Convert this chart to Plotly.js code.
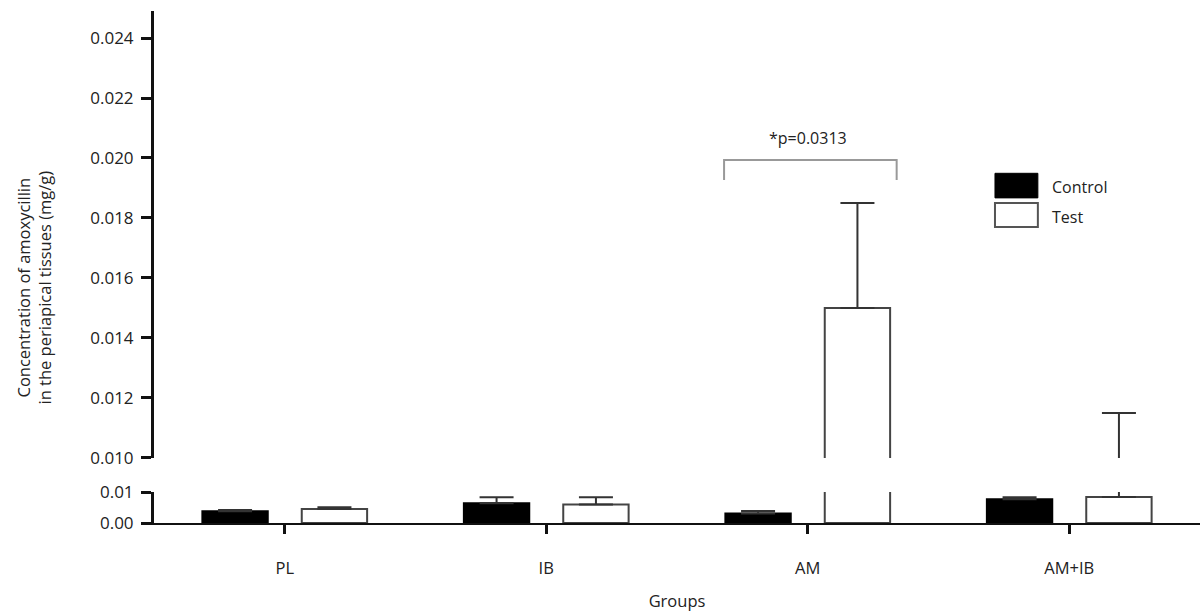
<!DOCTYPE html>
<html>
<head>
<meta charset="utf-8">
<script src="https://cdn.plot.ly/plotly-3.0.1.min.js"></script>
<style>html,body{margin:0;padding:0;background:#fff;}#chart{width:1200px;height:613px;}</style>
</head>
<body>
<div id="chart"></div>
<script>
// ---- data ----
const categories = ['PL', 'IB', 'AM', 'AM+IB'];
const seriesNames = ['Control', 'Test'];
const controlMean = [0.0038, 0.0064, 0.0031, 0.0077];
const controlErr  = [0.0004, 0.0019, 0.0008, 0.0006];
const testMean    = [0.0045, 0.0060, 0.0150, 0.0084];
const testErr     = [0.0006, 0.0023, 0.0035, 0.0031];
const lowerTicks  = [0.00, 0.01];
const upperTicks  = [0.010, 0.012, 0.014, 0.016, 0.018, 0.020, 0.022, 0.024];
const sigLabel = '*p=0.0313';
const sigGroup = 'AM';

const FONT = '"Open Sans", "Noto Sans", sans-serif';
const BAR_W = 0.25;
const zeros = categories.map(() => 0);

function barTrace(name, y, err, fill, lineColor, yaxis, offset) {
  return {
    type: 'bar', name: name, x: categories, y: y,
    xaxis: 'x', yaxis: yaxis,
    width: BAR_W, offset: offset,
    marker: {color: fill, line: {color: lineColor, width: 2}},
    error_y: {type: 'data', array: err, arrayminus: zeros, symmetric: false,
              color: '#333', thickness: 2, width: 17},
    showlegend: false, hoverinfo: 'x+y'
  };
}

const traces = [];
['y', 'y2'].forEach(ax => {
  traces.push(barTrace(seriesNames[0], controlMean, controlErr, '#000', '#000', ax, -0.315));
  traces.push(barTrace(seriesNames[1], testMean, testErr, '#fff', '#444', ax, 0.065));
});

const gi = categories.indexOf(sigGroup);
const shapes = [
  {type: 'path', xref: 'x', yref: 'y2',
   path: `M ${gi - 0.32},0.01927 L ${gi - 0.32},0.01993 L ${gi + 0.34},0.01993 L ${gi + 0.34},0.01927`,
   line: {color: '#999', width: 2}},
  // legend boxes
  {type: 'rect', xref: 'paper', yref: 'paper', x0: 0.804, x1: 0.845, y0: 0.635, y1: 0.683,
   fillcolor: '#000', line: {color: '#000', width: 1}},
  {type: 'rect', xref: 'paper', yref: 'paper', x0: 0.804, x1: 0.845, y0: 0.578, y1: 0.625,
   fillcolor: '#fff', line: {color: '#555', width: 2}}
];

const annotations = [
  {xref: 'x', yref: 'y2', x: gi, y: 0.02067, text: sigLabel, showarrow: false,
   font: {family: FONT, size: 16, color: '#222'}},
  {xref: 'paper', yref: 'paper', x: 0.857, y: 0.656, xanchor: 'left', text: seriesNames[0],
   showarrow: false, font: {family: FONT, size: 16, color: '#222'}},
  {xref: 'paper', yref: 'paper', x: 0.857, y: 0.598, xanchor: 'left', text: seriesNames[1],
   showarrow: false, font: {family: FONT, size: 16, color: '#222'}},
  {xref: 'paper', yref: 'paper', x: -0.1147, y: 0.46, xanchor: 'center', yanchor: 'middle',
   textangle: -90,
   text: 'Concentration of amoxycillin<br>in the periapical tissues (mg/g)',
   showarrow: false, font: {family: FONT, size: 16.5, color: '#222'}}
];

const axisCommon = {
  showgrid: false, zeroline: false, showline: true, linecolor: '#111', linewidth: 3,
  ticks: 'outside', ticklen: 10, tickwidth: 3, tickcolor: '#111', ticklabelstandoff: 4,
  tickfont: {family: FONT, size: 17, color: '#222'}, fixedrange: true
};

const layout = {
  width: 1200, height: 613,
  margin: {l: 154, r: 0, t: 11, b: 90},
  paper_bgcolor: '#fff', plot_bgcolor: 'rgba(0,0,0,0)',
  font: {family: FONT, color: '#222'},
  barmode: 'overlay',
  xaxis: {
    type: 'category', range: [-0.5, 3.5], domain: [0, 1], anchor: 'y',
    showgrid: false, zeroline: false, showline: true, linecolor: '#111', linewidth: 2,
    ticks: 'outside', ticklen: 9, tickwidth: 3, tickcolor: '#111',
    tickfont: {family: FONT, size: 16.5, color: '#222'}, ticklabelstandoff: 20,
    title: {text: 'Groups', font: {family: FONT, size: 16.5, color: '#222'}, standoff: 18},
    fixedrange: true
  },
  yaxis: Object.assign({}, axisCommon, {
    domain: [0, 0.0605], range: [0, 0.01], anchor: 'x',
    tickmode: 'array', tickvals: lowerTicks, tickformat: '.2f'
  }),
  yaxis2: Object.assign({}, axisCommon, {
    domain: [0.127, 1], range: [0.010, 0.0249], anchor: 'x',
    tickmode: 'array', tickvals: upperTicks, tickformat: '.3f'
  }),
  shapes: shapes,
  annotations: annotations,
  showlegend: false
};

Plotly.newPlot('chart', traces, layout, {displayModeBar: false, responsive: false});
</script>
</body>
</html>
